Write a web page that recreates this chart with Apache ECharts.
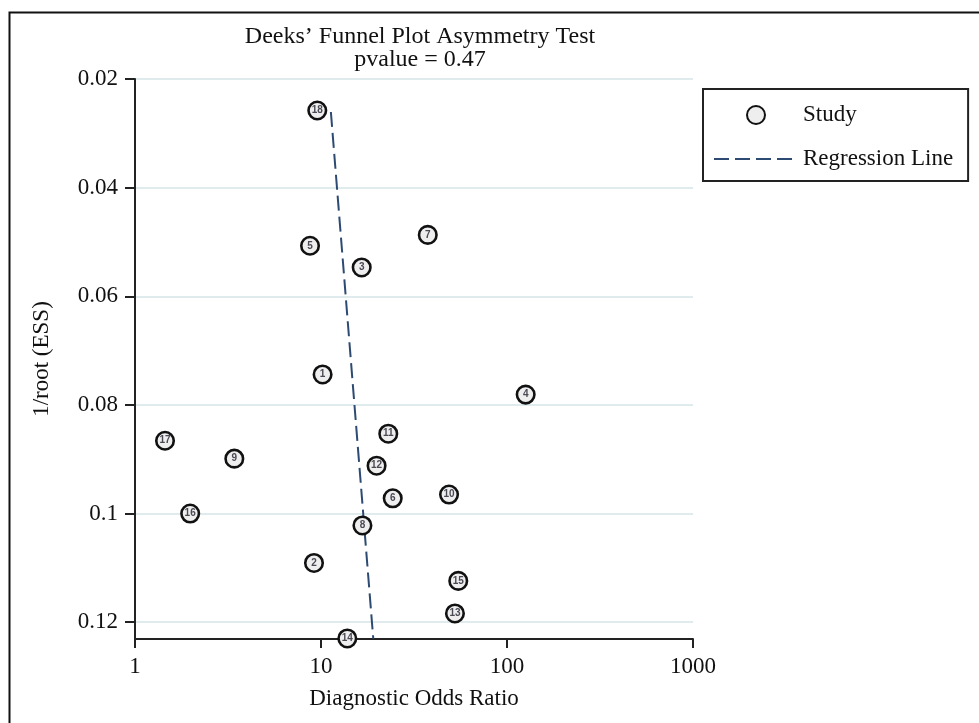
<!DOCTYPE html>
<html>
<head>
<meta charset="utf-8">
<script src="https://cdn.jsdelivr.net/npm/echarts@6/dist/echarts.min.js"></script>
<style>
html,body{margin:0;padding:0;background:#fff;}
#chart{width:979px;height:723px;}
</style>
</head>
<body>
<div id="chart"></div>
<script>
// ---- data ----
const studyIds = ['1','2','3','4','5','6','7','8','9','10','11','12','13','14','15','16','17','18'];
const diagnosticOddsRatio = [10.2, 9.17, 16.55, 126, 8.73, 24.3, 37.5, 16.7, 3.42, 48.8, 23.0, 19.9, 52.5, 13.85, 54.7, 1.98, 1.45, 9.55];
const invRootESS = [0.0744, 0.1091, 0.0547, 0.0781, 0.0507, 0.0972, 0.0487, 0.1022, 0.0899, 0.0965, 0.0853, 0.0912, 0.1184, 0.1230, 0.1124, 0.1000, 0.0866, 0.0258];
const regressionDOR = [11.3, 19.1];
const regressionY = [0.02607, 0.12305];
const xTicks = [1, 10, 100, 1000];
const yTicks = [0.02, 0.04, 0.06, 0.08, 0.10, 0.12];
const titleLines = ['Deeks\u2019 Funnel Plot Asymmetry Test', 'pvalue = 0.47'];

const FONT = '"Liberation Serif", "Times New Roman", serif';
const chart = echarts.init(document.getElementById('chart'), null, {renderer: 'canvas'});

const scatterData = studyIds.map((id, i) => [diagnosticOddsRatio[i], invRootESS[i], id]);
const lineData = regressionDOR.map((x, i) => [x, regressionY[i]]);

chart.setOption({
  animation: false,
  backgroundColor: '#ffffff',
  title: {
    text: titleLines.join('\n'),
    left: 420,
    top: 25,
    textAlign: 'center',
    padding: 0,
    textStyle: {fontFamily: FONT, fontSize: 24, lineHeight: 23, fontWeight: 'normal', color: '#111'}
  },
  graphic: [{
    type: 'rect', left: 7, top: 10, z: -10, silent: true,
    shape: {width: 1000, height: 800},
    style: {fill: 'none', stroke: '#111', lineWidth: 2}
  }],
  legend: {
    orient: 'vertical',
    left: 703, top: 89,
    padding: [14, 15, 10, 10],
    itemGap: 20,
    itemWidth: 84,
    itemHeight: 18,
    borderColor: '#222',
    borderWidth: 2,
    backgroundColor: '#fff',
    textStyle: {fontFamily: FONT, fontSize: 23, lineHeight: 24, color: '#111'},
    data: [
      {name: 'Study'},
      {name: 'Regression Line', itemStyle: {color: 'rgba(0,0,0,0)', borderWidth: 0, opacity: 0}}
    ]
  },
  grid: {left: 135, top: 79, right: 286, bottom: 84, containLabel: false, outerBoundsMode: 'none'},
  xAxis: {
    type: 'log', logBase: 10, min: 1, max: 1000,
    name: 'Diagnostic Odds Ratio', nameLocation: 'middle', nameGap: 48,
    nameTextStyle: {fontFamily: FONT, fontSize: 23, color: '#111'},
    axisLine: {onZero: false, lineStyle: {color: '#222', width: 2}},
    axisTick: {show: true, length: 9, lineStyle: {color: '#222', width: 2}, customValues: xTicks},
    axisLabel: {fontFamily: FONT, fontSize: 23, color: '#111', margin: 16, customValues: xTicks,
      formatter: v => String(Math.round(v))},
    splitLine: {show: false},
    minorTick: {show: false}
  },
  yAxis: {
    type: 'value', inverse: true, min: 0.02, max: 0.1231, interval: 0.02,
    name: '1/root (ESS)', nameLocation: 'middle', nameGap: 82, nameRotate: 90,
    nameTextStyle: {fontFamily: FONT, fontSize: 23, color: '#111'},
    axisLine: {show: true, onZero: false, lineStyle: {color: '#222', width: 2}},
    axisTick: {show: true, length: 10, lineStyle: {color: '#222', width: 2}, customValues: yTicks},
    axisLabel: {fontFamily: FONT, fontSize: 23, color: '#111', margin: 17, customValues: yTicks,
      formatter: v => String(Math.round(v * 100) / 100)},
    splitLine: {show: true, lineStyle: {color: '#e0ebee', width: 2}}
  },
  series: [
    {
      name: 'Regression Line',
      type: 'line',
      data: lineData,
      symbol: 'none',
      z: 2,
      lineStyle: {color: '#2d4b72', width: 2, type: [15, 6]},
      itemStyle: {color: '#2d4b72'}
    },
    {
      name: 'Study',
      type: 'scatter',
      data: scatterData,
      symbol: 'circle',
      symbolSize: 17.5,
      z: 5,
      itemStyle: {color: '#eeeeee', borderColor: '#111', borderWidth: 2.6, opacity: 1},
      label: {
        show: true, position: 'inside',
        formatter: p => p.value[2],
        fontFamily: '"Liberation Sans", Arial, sans-serif',
        fontSize: 10, fontWeight: 'bold', color: '#4a4a55'
      }
    }
  ]
});
</script>
</body>
</html>
